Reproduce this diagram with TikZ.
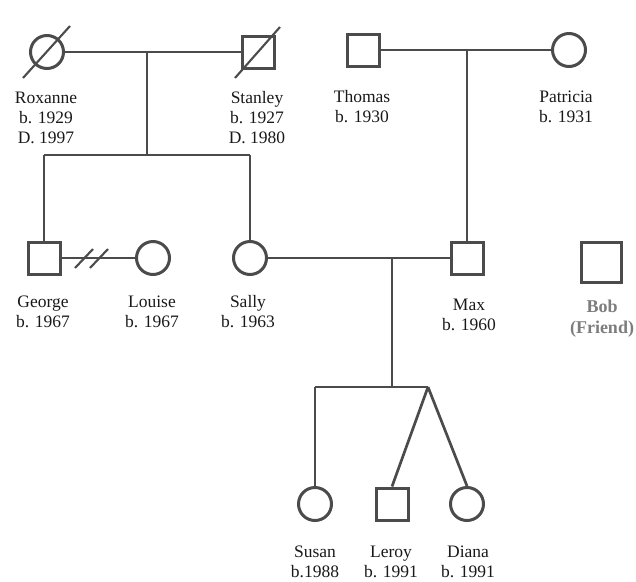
\documentclass[tikz,border=0pt]{standalone}
\usepackage{fontspec}
\setmainfont{Liberation Serif}
\usetikzlibrary{calc}
\definecolor{linec}{RGB}{75,75,75}
\definecolor{txtc}{RGB}{25,25,25}
\definecolor{bobc}{RGB}{125,125,125}
\begin{document}
\begin{tikzpicture}[x=1pt,y=-1pt,
  person/.style={draw=linec, line width=3pt, inner sep=0pt, fill=white},
  male/.style={person, rectangle, minimum size=32pt},
  female/.style={person, circle, minimum size=33pt},
  lbl/.style={align=center, font=\fontsize{17.5}{20}\selectfont, text=txtc, inner sep=0pt},
  rel/.style={draw=linec, line width=2.7pt},
  dead/.style={draw=linec, line width=2.1pt}]
\useasboundingbox (0,0) rectangle (636,581);

% generation 1
\node[female] (rox) at (47,52) {};
\node[male] (stan) at (258,52) {};
\node[male] (thom) at (363,50) {};
\node[female] (pat) at (569,50) {};

\coordinate (rsm) at (147,52);
\coordinate (rss) at (147,155);
\coordinate (rsl) at (44,155);
\coordinate (rsr) at (250,155);
\coordinate (tpm) at (467,50);

\draw[rel] (rox) -- (stan);
\draw[rel] (thom) -- (pat);
\draw[rel] (rsm) -- (rss);
\draw[rel] (rsl) -- (rsr);

% deceased slashes
\coordinate (rxa) at ($(rox)+(-24,26)$);
\coordinate (rxb) at ($(rox)+(23,-26)$);
\coordinate (sta) at ($(stan)+(-23,26)$);
\coordinate (stb) at ($(stan)+(22,-25)$);

% generation 2
\node[male] (geo) at (44,258) {};
\node[female] (lou) at (153,258) {};
\node[female] (sal) at (250,258) {};
\node[male] (max) at (467,258) {};
\node[person, rectangle, minimum size=40pt] (bob) at (601,262) {};

\draw[rel] (rsl) -- (geo);
\draw[rel] (rsr) -- (sal);
\draw[rel] (tpm) -- (max);
\draw[rel] (geo) -- (lou);
\draw[rel] (sal) -- (max);

% divorce marks
\coordinate (d1a) at (75,268);
\coordinate (d1b) at (93,249);
\coordinate (d2a) at (90,268);
\coordinate (d2b) at (108,249);
\draw[dead] (d1a) -- (d1b);
\draw[dead] (d2a) -- (d2b);

% generation 3
\coordinate (smm) at (392,258);
\coordinate (smc) at (392,387);
\coordinate (sbl) at (315,387);
\coordinate (twn) at (428,387);
\node[female] (sus) at (315,504) {};
\node[male] (ler) at (392,504) {};
\node[female] (dia) at (467,504) {};

\draw[rel] (smm) -- (smc);
\draw[rel] (sbl) -- (twn);
\draw[rel] (sbl) -- (sus);
\draw[rel] (twn) -- (ler.north);
\draw[rel] (twn) -- (dia.north);

\draw[dead] (rxa) -- (rxb);
\draw[dead] (sta) -- (stb);

% labels
\node[lbl] (lrox) at (46,118) {Roxanne\\b. 1929\\D. 1997};
\node[lbl] (lstan) at (257,118) {Stanley\\b. 1927\\D. 1980};
\node[lbl] (lthom) at (362,107) {Thomas\\b. 1930};
\node[lbl] (lpat) at (566,107) {Patricia\\b. 1931};
\node[lbl] (lgeo) at (43,312) {George\\b. 1967};
\node[lbl] (llou) at (152,312) {Louise\\b. 1967};
\node[lbl] (lsal) at (248,312) {Sally\\b. 1963};
\node[lbl] (lmax) at (469,315) {Max\\b. 1960};
\node[lbl, text=bobc, font=\fontsize{18}{21}\selectfont\bfseries] (lbob) at (602,319) {Bob\\(Friend)};
\node[lbl] (lsus) at (315,562) {Susan\\b.1988};
\node[lbl] (ller) at (391,562) {Leroy\\b. 1991};
\node[lbl] (ldia) at (468,562) {Diana\\b. 1991};
\end{tikzpicture}
\end{document}
